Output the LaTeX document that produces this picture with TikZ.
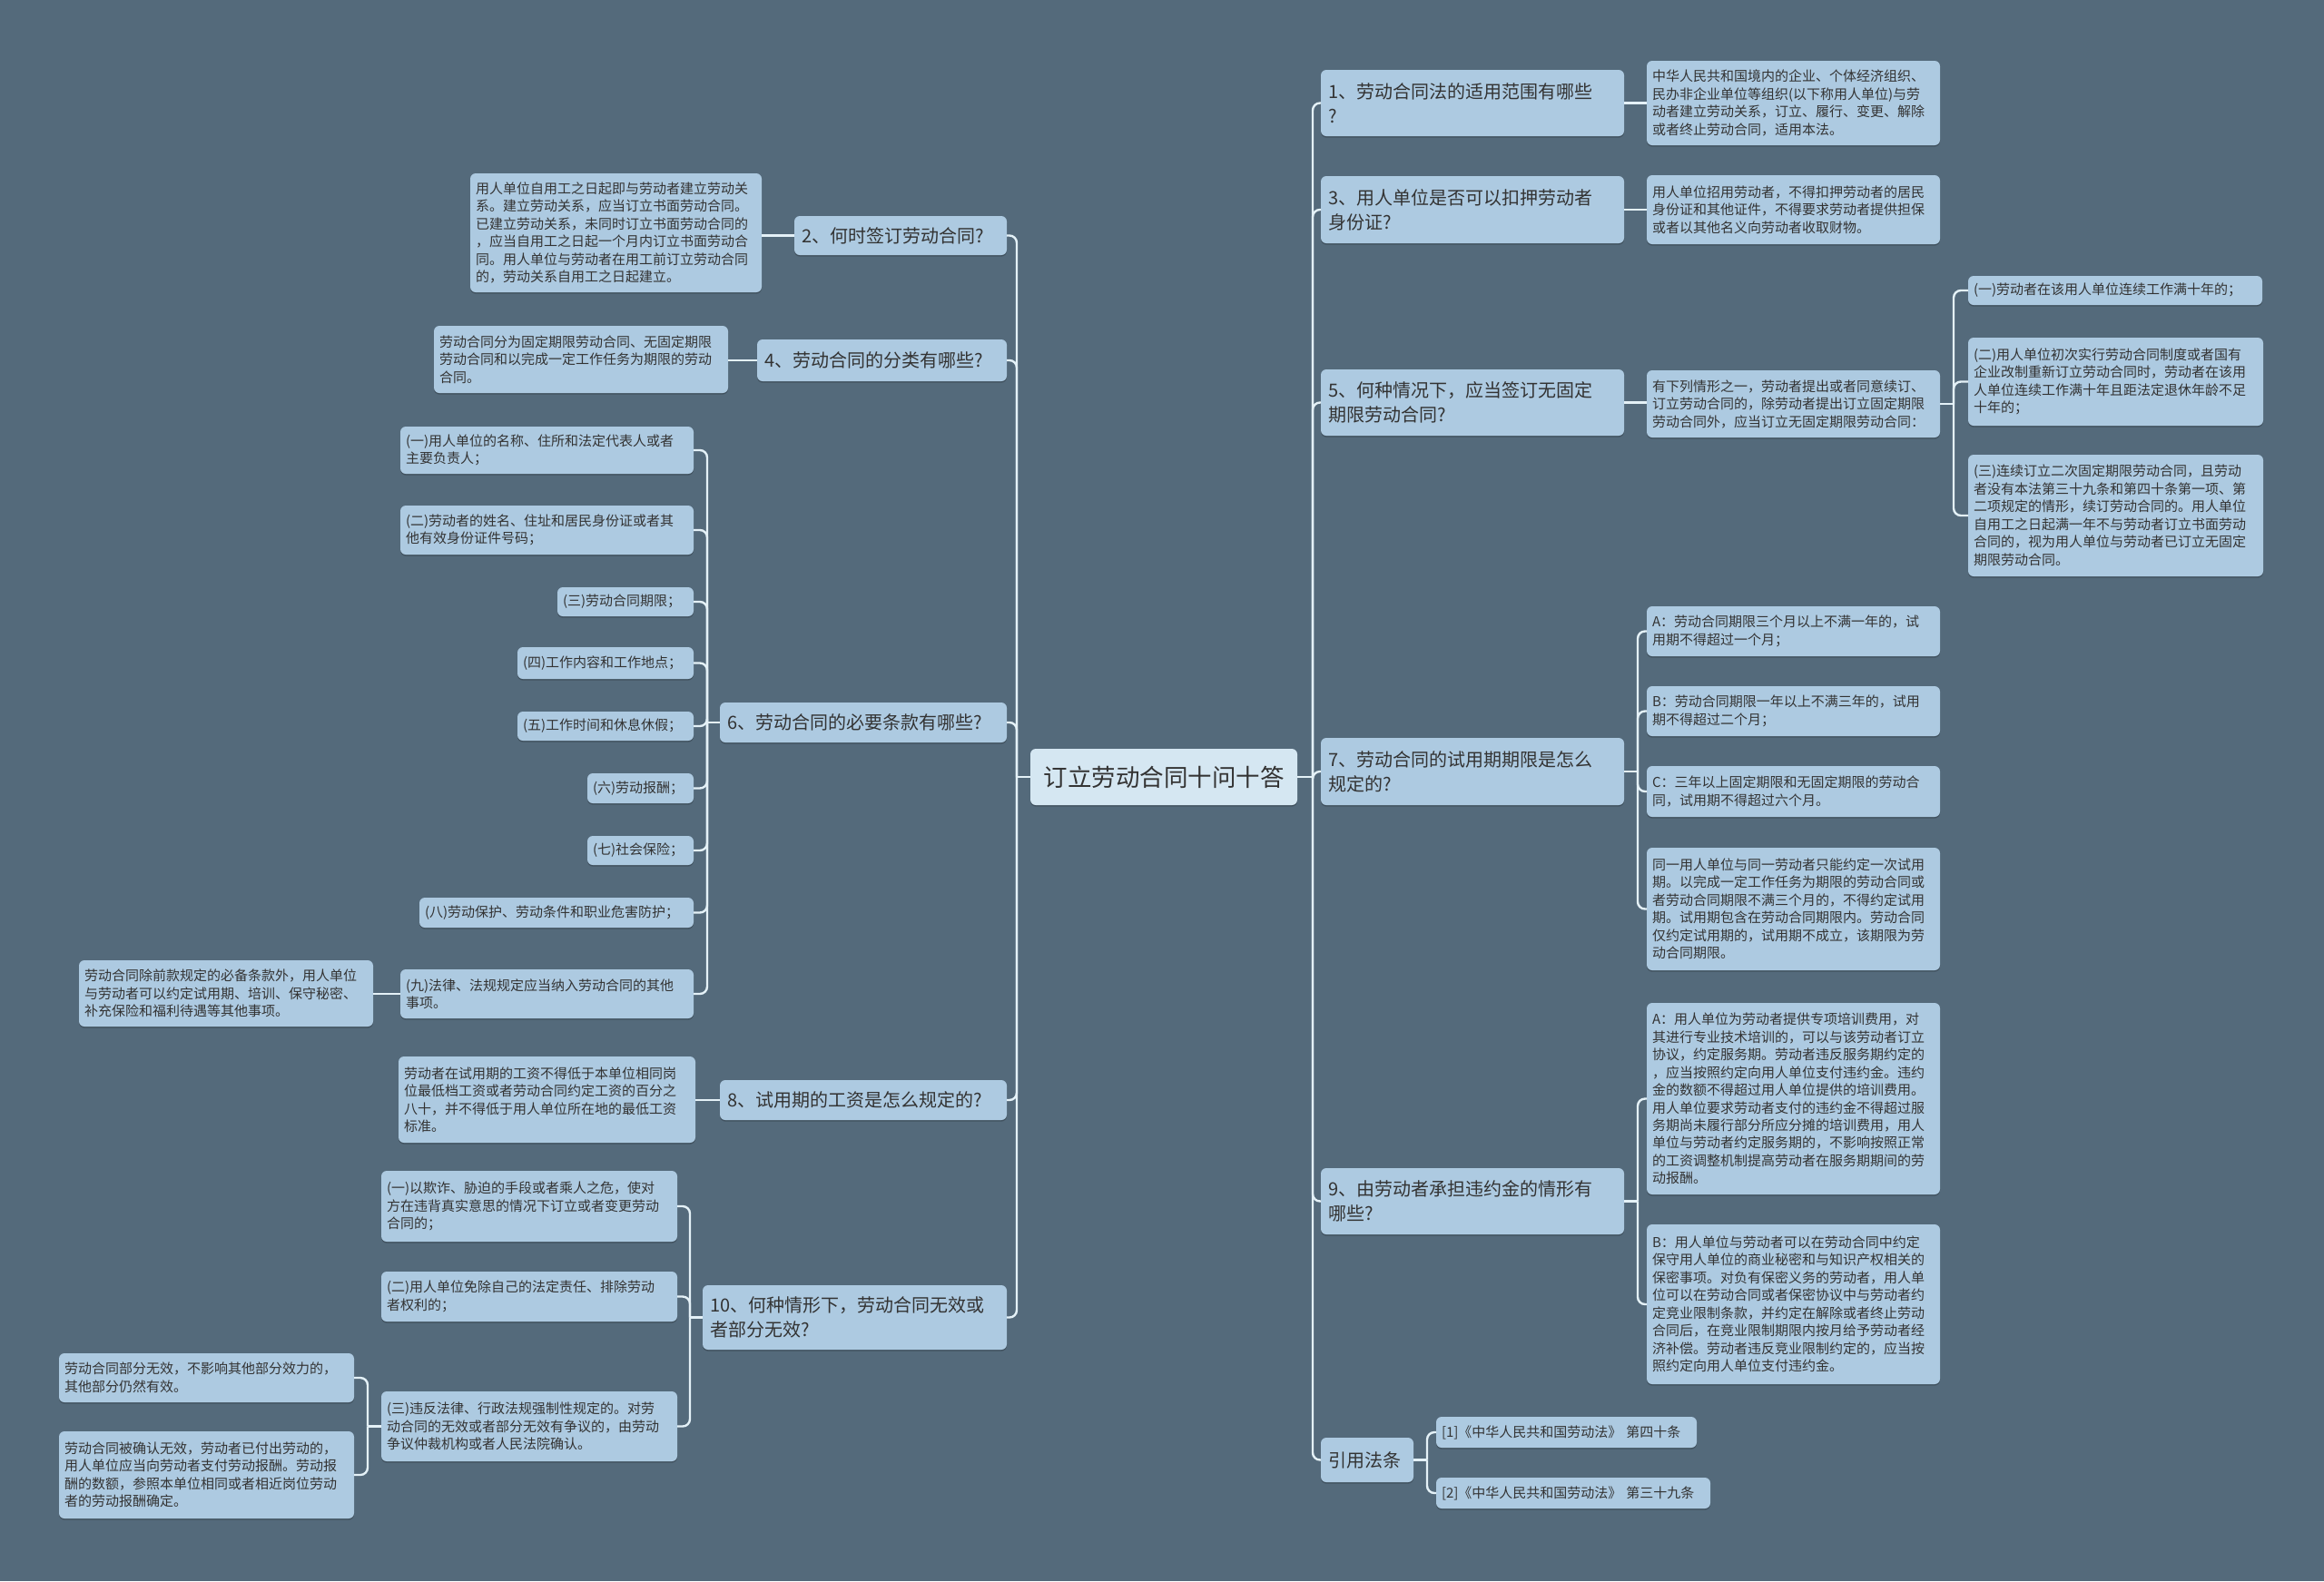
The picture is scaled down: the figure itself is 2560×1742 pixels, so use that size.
\documentclass[tikz,border=0pt]{standalone}
\usepackage{fontspec}
\setmainfont{Noto Sans CJK SC}
\usetikzlibrary{shadows,calc}
\definecolor{bg}{HTML}{546A7B}
\definecolor{nodefill}{HTML}{ADCAE1}
\definecolor{rootfill}{HTML}{D5E7F2}
\definecolor{txt}{HTML}{333333}
\definecolor{linec}{HTML}{E4F1F7}
\begin{document}
\begin{tikzpicture}[x=0.5pt,y=-0.5pt,
  base/.style={fill=nodefill, rounded corners=3pt, inner xsep=3pt, inner ysep=0pt, outer sep=0pt,
    anchor=north west, align=left, text=txt,
    drop shadow={shadow xshift=0pt, shadow yshift=-0.8pt, opacity=0.22, fill=black}},
  sz/.code 2 args={\pgfmathsetlengthmacro\mytw{#1*0.5pt-6pt}\pgfmathsetlengthmacro\myth{#2*0.5pt}%
    \pgfkeysalso{/tikz/text width/.expanded=\mytw, /tikz/minimum height/.expanded=\myth}},
  lone/.style={base, inner xsep=4pt, font=\fontsize{10}{13.5}\selectfont},
  leaf/.style={base, font=\fontsize{7.5}{9.75}\selectfont},
  rootbox/.style={base, fill=rootfill, inner xsep=4pt, align=center, font=\fontsize{13.25}{16}\selectfont},
  conn/.style={draw=linec, line width=1.2pt, rounded corners=4pt},
]
\fill[bg] (0,0) rectangle (2560,1742);
\useasboundingbox (0,0) rectangle (2560,1742);

% root
\node[rootbox, sz={290}{62}] (root) at (1135,825) {订立劳动合同十问十答};

% right side
\node[lone, sz={330}{73}] (R1) at (1455,77) {1、劳动合同法的适用范围有哪些\\?};
\node[leaf, sz={323}{93}] (R1a) at (1814,67) {中华人民共和国境内的企业、个体经济组织、\\民办非企业单位等组织(以下称用人单位)与劳\\动者建立劳动关系，订立、履行、变更、解除\\或者终止劳动合同，适用本法。};
\node[lone, sz={330}{74}] (R3) at (1455,194) {3、用人单位是否可以扣押劳动者\\身份证?};
\node[leaf, sz={323}{76}] (R3a) at (1814,193) {用人单位招用劳动者，不得扣押劳动者的居民\\身份证和其他证件，不得要求劳动者提供担保\\或者以其他名义向劳动者收取财物。};
\node[lone, sz={330}{73}] (R5) at (1455,407) {5、何种情况下，应当签订无固定\\期限劳动合同?};
\node[leaf, sz={323}{74}] (R5a) at (1814,408) {有下列情形之一，劳动者提出或者同意续订、\\订立劳动合同的，除劳动者提出订立固定期限\\劳动合同外，应当订立无固定期限劳动合同：};
\node[leaf, sz={324}{32}] (R5a1) at (2168,304) {(一)劳动者在该用人单位连续工作满十年的；};
\node[leaf, sz={325}{97}] (R5a2) at (2168,372) {(二)用人单位初次实行劳动合同制度或者国有\\企业改制重新订立劳动合同时，劳动者在该用\\人单位连续工作满十年且距法定退休年龄不足\\十年的；};
\node[leaf, sz={325}{134}] (R5a3) at (2168,501) {(三)连续订立二次固定期限劳动合同，且劳动\\者没有本法第三十九条和第四十条第一项、第\\二项规定的情形，续订劳动合同的。用人单位\\自用工之日起满一年不与劳动者订立书面劳动\\合同的，视为用人单位与劳动者已订立无固定\\期限劳动合同。};
\node[lone, sz={330}{74}] (R7) at (1455,813) {7、劳动合同的试用期期限是怎么\\规定的?};
\node[leaf, sz={323}{55}] (R7A) at (1814,668) {A：劳动合同期限三个月以上不满一年的，试\\用期不得超过一个月；};
\node[leaf, sz={323}{55}] (R7B) at (1814,756) {B：劳动合同期限一年以上不满三年的，试用\\期不得超过二个月；};
\node[leaf, sz={323}{56}] (R7C) at (1814,844) {C：三年以上固定期限和无固定期限的劳动合\\同，试用期不得超过六个月。};
\node[leaf, sz={323}{135}] (R7D) at (1814,934) {同一用人单位与同一劳动者只能约定一次试用\\期。以完成一定工作任务为期限的劳动合同或\\者劳动合同期限不满三个月的，不得约定试用\\期。试用期包含在劳动合同期限内。劳动合同\\仅约定试用期的，试用期不成立，该期限为劳\\动合同期限。};
\node[lone, sz={330}{73}] (R9) at (1455,1287) {9、由劳动者承担违约金的情形有\\哪些?};
\node[leaf, sz={323}{211}] (R9A) at (1814,1105) {A：用人单位为劳动者提供专项培训费用，对\\其进行专业技术培训的，可以与该劳动者订立\\协议，约定服务期。劳动者违反服务期约定的\\，应当按照约定向用人单位支付违约金。违约\\金的数额不得超过用人单位提供的培训费用。\\用人单位要求劳动者支付的违约金不得超过服\\务期尚未履行部分所应分摊的培训费用，用人\\单位与劳动者约定服务期的，不影响按照正常\\的工资调整机制提高劳动者在服务期期间的劳\\动报酬。};
\node[leaf, sz={323}{176}] (R9B) at (1814,1349) {B：用人单位与劳动者可以在劳动合同中约定\\保守用人单位的商业秘密和与知识产权相关的\\保密事项。对负有保密义务的劳动者，用人单\\位可以在劳动合同或者保密协议中与劳动者约\\定竞业限制条款，并约定在解除或者终止劳动\\合同后，在竞业限制期限内按月给予劳动者经\\济补偿。劳动者违反竞业限制约定的，应当按\\照约定向用人单位支付违约金。};
\node[lone, sz={98}{49}] (R11) at (1455,1584) {引用法条};
\node[leaf, sz={287}{34}] (Ref1) at (1582,1561) {[1]《中华人民共和国劳动法》 第四十条};
\node[leaf, sz={302}{34}] (Ref2) at (1582,1628) {[2]《中华人民共和国劳动法》 第三十九条};

% left side
\node[lone, sz={230}{43}] (L2) at (875,238) {2、何时签订劳动合同?};
\node[leaf, sz={321}{131}] (L2a) at (518,191) {用人单位自用工之日起即与劳动者建立劳动关\\系。建立劳动关系，应当订立书面劳动合同。\\已建立劳动关系，未同时订立书面劳动合同的\\，应当自用工之日起一个月内订立书面劳动合\\同。用人单位与劳动者在用工前订立劳动合同\\的，劳动关系自用工之日起建立。};
\node[lone, sz={271}{46}] (L4) at (834,374) {4、劳动合同的分类有哪些?};
\node[leaf, sz={324}{74}] (L4a) at (478,359) {劳动合同分为固定期限劳动合同、无固定期限\\劳动合同和以完成一定工作任务为期限的劳动\\合同。};
\node[lone, sz={312}{44}] (L6) at (793,774) {6、劳动合同的必要条款有哪些?};
\node[leaf, sz={323}{52}] (L6a1) at (441,470) {(一)用人单位的名称、住所和法定代表人或者\\主要负责人；};
\node[leaf, sz={323}{54}] (L6a2) at (441,557) {(二)劳动者的姓名、住址和居民身份证或者其\\他有效身份证件号码；};
\node[leaf, sz={150}{32}] (L6a3) at (614,647) {(三)劳动合同期限；};
\node[leaf, sz={194}{35}] (L6a4) at (570,713) {(四)工作内容和工作地点；};
\node[leaf, sz={194}{32}] (L6a5) at (570,784) {(五)工作时间和休息休假；};
\node[leaf, sz={117}{33}] (L6a6) at (647,852) {(六)劳动报酬；};
\node[leaf, sz={117}{32}] (L6a7) at (647,921) {(七)社会保险；};
\node[leaf, sz={302}{33}] (L6a8) at (462,989) {(八)劳动保护、劳动条件和职业危害防护；};
\node[leaf, sz={323}{54}] (L6a9) at (441,1068) {(九)法律、法规规定应当纳入劳动合同的其他\\事项。};
\node[leaf, sz={324}{73}] (L6a9x) at (87,1058) {劳动合同除前款规定的必备条款外，用人单位\\与劳动者可以约定试用期、培训、保守秘密、\\补充保险和福利待遇等其他事项。};
\node[lone, sz={312}{44}] (L8) at (793,1190) {8、试用期的工资是怎么规定的?};
\node[leaf, sz={327}{95}] (L8a) at (439,1164) {劳动者在试用期的工资不得低于本单位相同岗\\位最低档工资或者劳动合同约定工资的百分之\\八十，并不得低于用人单位所在地的最低工资\\标准。};
\node[lone, sz={331}{71}] (L10) at (774,1416) {10、何种情形下，劳动合同无效或\\者部分无效?};
\node[leaf, sz={326}{78}] (L10a1) at (420,1290) {(一)以欺诈、胁迫的手段或者乘人之危，使对\\方在违背真实意思的情况下订立或者变更劳动\\合同的；};
\node[leaf, sz={326}{55}] (L10a2) at (420,1401) {(二)用人单位免除自己的法定责任、排除劳动\\者权利的；};
\node[leaf, sz={326}{77}] (L10a3) at (420,1533) {(三)违反法律、行政法规强制性规定的。对劳\\动合同的无效或者部分无效有争议的，由劳动\\争议仲裁机构或者人民法院确认。};
\node[leaf, sz={325}{54}] (L10a3x) at (65,1491) {劳动合同部分无效，不影响其他部分效力的，\\其他部分仍然有效。};
\node[leaf, sz={325}{96}] (L10a3y) at (65,1577) {劳动合同被确认无效，劳动者已付出劳动的，\\用人单位应当向劳动者支付劳动报酬。劳动报\\酬的数额，参照本单位相同或者相近岗位劳动\\者的劳动报酬确定。};

% trunk coordinates
\coordinate (tR) at ($(root.east)+(17,0)$);
\coordinate (tL) at ($(root.west)+(-15,0)$);
\coordinate (t5a) at ($(R5a.east)+(15,0)$);
\coordinate (t7) at ($(R7.east)+(15,0)$);
\coordinate (t9) at ($(R9.east)+(15,0)$);
\coordinate (t11) at ($(R11.east)+(15,0)$);
\coordinate (t6) at ($(L6.west)+(-14,0)$);
\coordinate (t10) at ($(L10.west)+(-14,0)$);
\coordinate (t10c) at ($(L10a3.west)+(-15,0)$);

% connectors
\draw[conn] (root.east) -- (tR);
\foreach \c in {R1,R3,R5,R7,R9,R11} \draw[conn] (tR) |- (\c.west);
\draw[conn] (root.west) -- (tL);
\foreach \c in {L2,L4,L6,L8,L10} \draw[conn] (tL) |- (\c.east);

\draw[conn] (R1.east) -- (R1.east -| R1a.west);
\draw[conn] (R3.east) -- (R3.east -| R3a.west);
\draw[conn] (R5.east) -- (R5.east -| R5a.west);
\draw[conn] (R5a.east) -- (t5a);
\foreach \c in {R5a1,R5a2,R5a3} \draw[conn] (t5a) |- (\c.west);
\draw[conn] (R7.east) -- (t7);
\foreach \c in {R7A,R7B,R7C,R7D} \draw[conn] (t7) |- (\c.west);
\draw[conn] (R9.east) -- (t9);
\foreach \c in {R9A,R9B} \draw[conn] (t9) |- (\c.west);
\draw[conn] (R11.east) -- (t11);
\foreach \c in {Ref1,Ref2} \draw[conn] (t11) |- (\c.west);

\draw[conn] (L2.west) -- (L2.west -| L2a.east);
\draw[conn] (L4.west) -- (L4.west -| L4a.east);
\draw[conn] (L6.west) -- (t6);
\foreach \c in {L6a1,L6a2,L6a3,L6a4,L6a5,L6a6,L6a7,L6a8,L6a9} \draw[conn] (t6) |- (\c.east);
\draw[conn] (L6a9.west) -- (L6a9.west -| L6a9x.east);
\draw[conn] (L8.west) -- (L8.west -| L8a.east);
\draw[conn] (L10.west) -- (t10);
\foreach \c in {L10a1,L10a2,L10a3} \draw[conn] (t10) |- (\c.east);
\draw[conn] (L10a3.west) -- (t10c);
\foreach \c in {L10a3x,L10a3y} \draw[conn] (t10c) |- (\c.east);
\end{tikzpicture}
\end{document}
